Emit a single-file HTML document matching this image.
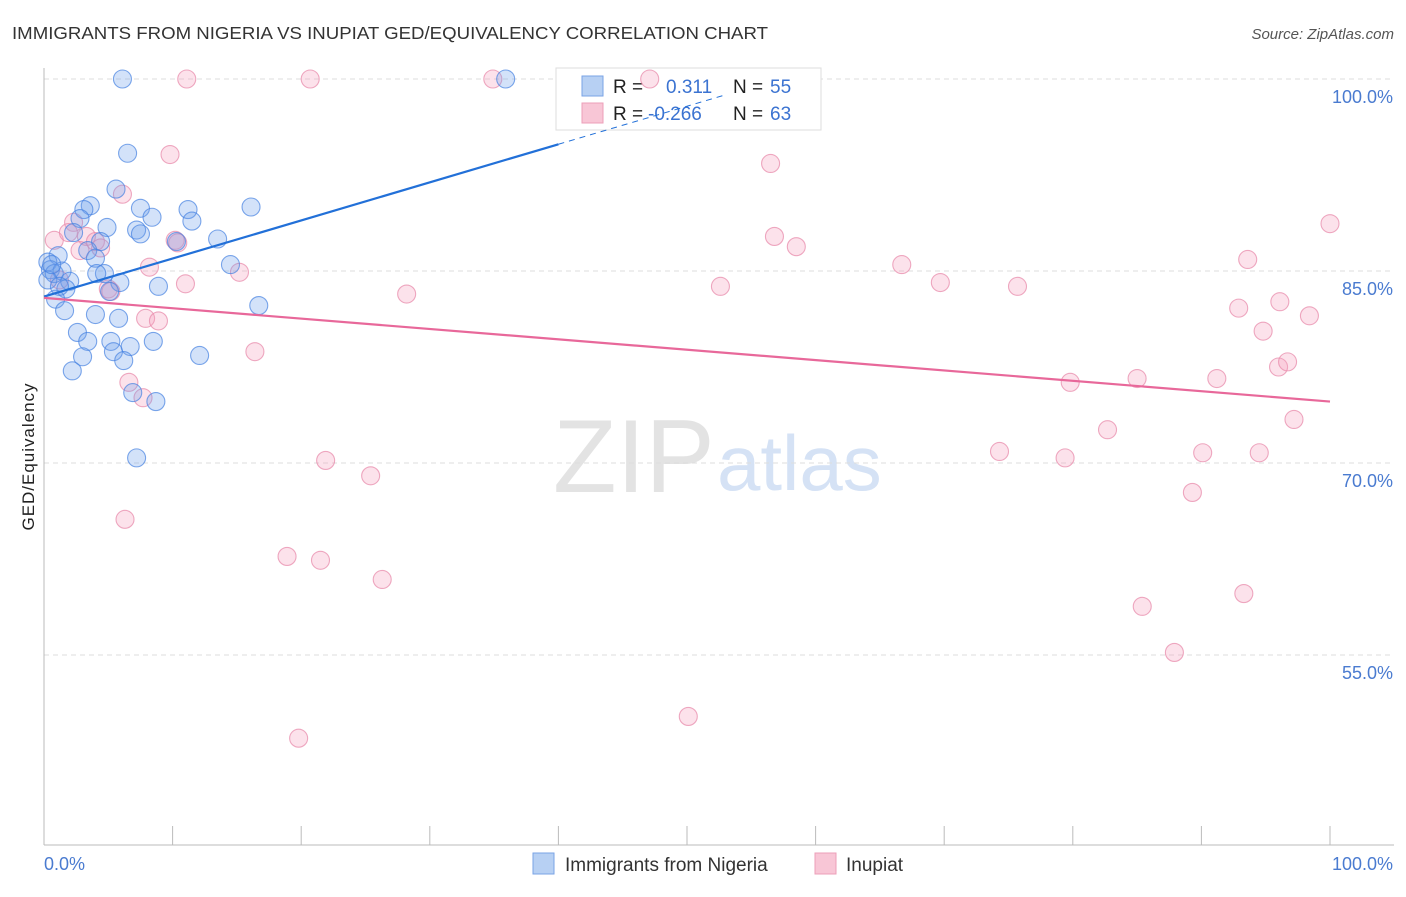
<!DOCTYPE html>
<html><head><meta charset="utf-8"><style>
body{margin:0;background:#fff;font-family:"Liberation Sans",sans-serif;}
svg text{font-family:"Liberation Sans",sans-serif;}
</style></head><body>
<svg width="1406" height="892" id="chart">
<text x="12" y="39" font-size="17.5" fill="#333" textLength="756" lengthAdjust="spacingAndGlyphs">IMMIGRANTS FROM NIGERIA VS INUPIAT GED/EQUIVALENCY CORRELATION CHART</text>
<text x="1394" y="39" font-size="15" fill="#555" font-style="italic" text-anchor="end">Source: ZipAtlas.com</text>
<g>
<text x="553" y="492" font-size="104" font-family="Liberation Serif,serif" fill="#e3e3e3">ZIP</text>
<text x="717" y="490" font-size="78" fill="#d5e2f5">atlas</text>
</g>
<g id="grid"></g>
<g id="axes"></g>
<g>
<rect x="556" y="68" width="265" height="62" fill="#fff" stroke="#ddd"/>
<rect x="582" y="76" width="21" height="20" fill="#b7d0f3" stroke="#7aa3e6"/>
<rect x="582" y="103" width="21" height="20" fill="#f8c6d6" stroke="#ec9fb8"/>
<text x="613" y="93" font-size="19" fill="#222">R = </text><text x="666" y="93" font-size="19" fill="#3b73d1">0.311</text>
<text x="733" y="93" font-size="19" fill="#222">N = </text><text x="770" y="93" font-size="19" fill="#3b73d1">55</text>
<text x="613" y="120" font-size="19" fill="#222">R = </text><text x="648" y="120" font-size="19" fill="#3b73d1">-0.266</text>
<text x="733" y="120" font-size="19" fill="#222">N = </text><text x="770" y="120" font-size="19" fill="#3b73d1">63</text>
</g>
<g id="marks"></g>
<text transform="translate(34,457) rotate(-90)" font-size="17" fill="#222" text-anchor="middle" textLength="147">GED/Equivalency</text>
<g>
<rect x="533" y="853" width="21" height="21" fill="#b7d0f3" stroke="#7aa3e6"/>
<text x="565" y="871" font-size="19" fill="#333">Immigrants from Nigeria</text>
<rect x="815" y="853" width="21" height="21" fill="#f8c6d6" stroke="#ec9fb8"/>
<text x="846" y="871" font-size="19" fill="#333">Inupiat</text>
</g>
</svg>
<script>
const blueX=[6.1,35.9,6.5,5.6,3.6,3.1,7.5,8.4,11.2,11.5,16.1,2.8,4.9,2.3,7.2,7.5,13.5,4.4,3.4,4.0,1.1,0.3,0.5,0.8,1.4,4.7,4.1,14.5,2.0,5.9,8.9,1.7,0.9,1.6,4.0,5.8,16.7,2.6,3.4,5.2,6.7,8.5,5.4,3.0,6.2,12.1,2.2,6.9,8.7,7.2,5.1,0.3,0.6,10.3,1.2];
const blueY=[100,100,94.2,91.4,90.1,89.8,89.9,89.2,89.8,88.9,90.0,89.1,88.4,88.0,88.2,87.9,87.5,87.3,86.6,86.0,86.2,85.7,85.1,84.8,85.0,84.8,84.8,85.5,84.2,84.1,83.8,83.6,82.8,81.9,81.6,81.3,82.3,80.2,79.5,79.5,79.1,79.5,78.7,78.3,78.0,78.4,77.2,75.5,74.8,70.4,83.4,84.3,85.5,87.3,83.8];
const pinkX=[11.1,20.7,34.9,47.1,9.8,56.5,6.1,0.8,2.3,1.9,3.3,4.0,4.4,2.8,10.2,10.4,56.8,58.5,8.2,15.2,11.0,5.0,5.2,28.2,52.6,66.7,69.7,75.7,93.6,100,96.1,92.9,94.8,98.4,7.9,8.9,16.4,6.6,7.7,79.8,85.0,91.2,96.0,96.7,82.7,97.2,21.9,74.3,79.4,90.1,94.5,25.4,89.3,6.3,18.9,21.5,26.3,85.4,93.3,87.9,50.1,19.8,1.2];
const pinkY=[100,100,100,100,94.1,93.4,91.0,87.4,88.8,88.0,87.7,87.3,86.8,86.6,87.4,87.2,87.7,86.9,85.3,84.9,84.0,83.6,83.4,83.2,83.8,85.5,84.1,83.8,85.9,88.7,82.6,82.1,80.3,81.5,81.3,81.1,78.7,76.3,75.1,76.3,76.6,76.6,77.5,77.9,72.6,73.4,70.2,70.9,70.4,70.8,70.8,69.0,67.7,65.6,62.7,62.4,60.9,58.8,59.8,55.2,50.2,48.5,84.3];
const blueTrend=[83.0,0.2975];
const pinkTrend=[82.9,-0.081];
const yTicks=[100,85,70,55];
const xTicks=[0,10,20,30,40,50,60,70,80,90,100];
const NS="http://www.w3.org/2000/svg";
const sx=v=>44+v*12.86;
const sy=v=>79+(100-v)*12.8;
function mk(tag,attrs,parent){const e=document.createElementNS(NS,tag);for(const k in attrs)e.setAttribute(k,attrs[k]);parent.appendChild(e);return e;}
const grid=document.getElementById('grid'),axes=document.getElementById('axes'),marks=document.getElementById('marks');
yTicks.forEach(t=>{
 const l=mk('line',{x1:44,x2:1394,y1:sy(t),y2:sy(t),stroke:'#ddd','stroke-dasharray':'5,4'},grid);
 
 
 const tx=mk('text',{x:1393,y:sy(t)+24,'font-size':18,fill:'#4a7bd0','text-anchor':'end'},axes);
 tx.textContent=t.toFixed(1)+'%';
 
 
});
const ya=mk('line',{x1:44,x2:44,y1:68,y2:845,stroke:'#bbb'},axes);


const xa=mk('line',{x1:44,x2:1394,y1:845,y2:845,stroke:'#bbb'},axes);


xTicks.forEach(t=>{
 const l=mk('line',{x1:sx(t),x2:sx(t),y1:826,y2:845,stroke:'#bbb'},axes);
 
 
});
const xl0=mk('text',{x:44,y:870,'font-size':18,fill:'#4a7bd0'},axes);xl0.textContent='0.0%';


const xl1=mk('text',{x:1393,y:870,'font-size':18,fill:'#4a7bd0','text-anchor':'end'},axes);xl1.textContent='100.0%';


function pts(xs,ys,fill,stroke,name){xs.forEach((x,i)=>{
 const c=mk('circle',{cx:sx(x),cy:sy(ys[i]),r:9,fill:fill,stroke:stroke,'stroke-width':1.1},marks);
 
 
});}
pts(pinkX,pinkY,'rgba(244,160,190,0.3)','rgba(232,140,172,0.75)','inupiat-point');
pts(blueX,blueY,'rgba(110,160,235,0.3)','rgba(70,130,225,0.7)','nigeria-point');
const b1=mk('line',{x1:sx(0),y1:sy(blueTrend[0]),x2:sx(40),y2:sy(blueTrend[0]+40*blueTrend[1]),stroke:'#2270d8','stroke-width':2.2},marks);


const b2=mk('line',{x1:sx(40),y1:sy(blueTrend[0]+40*blueTrend[1]),x2:sx(53),y2:sy(blueTrend[0]+53*blueTrend[1]),stroke:'#2270d8','stroke-width':1,'stroke-dasharray':'6,5'},marks);


const p1=mk('line',{x1:sx(0),y1:sy(pinkTrend[0]),x2:sx(100),y2:sy(pinkTrend[0]+100*pinkTrend[1]),stroke:'#e8689a','stroke-width':2.2},marks);


</script>
</body></html>
